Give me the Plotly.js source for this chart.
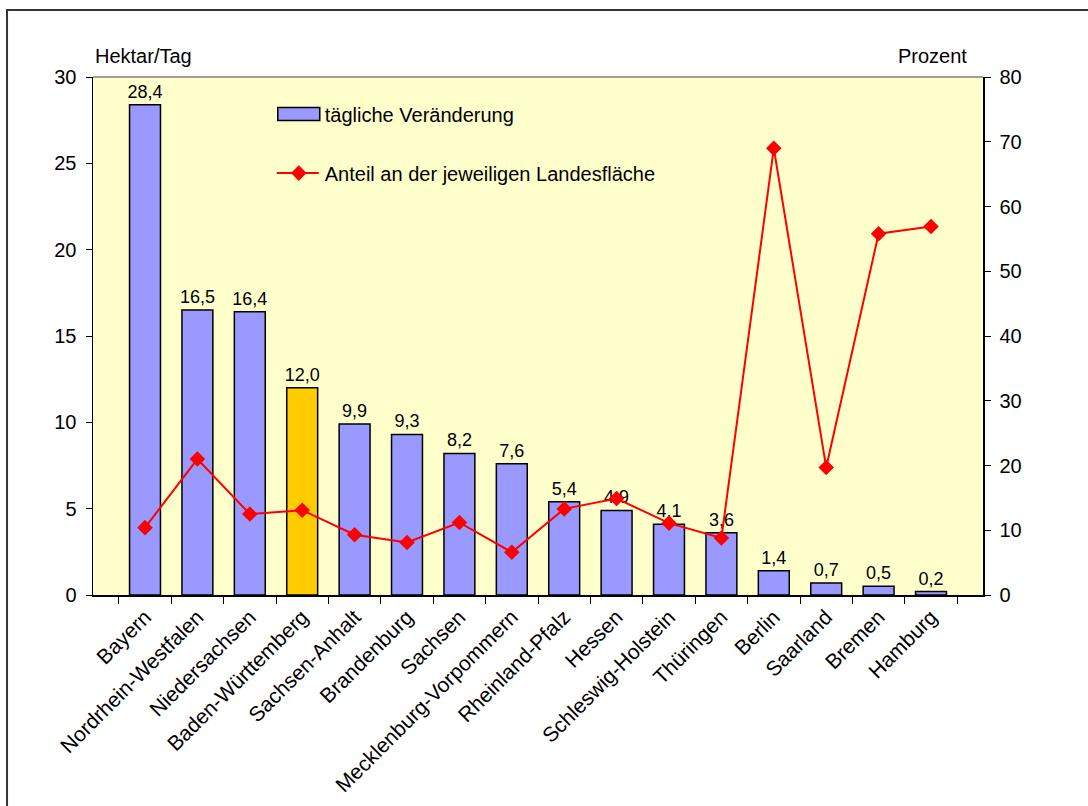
<!DOCTYPE html>
<html>
<head>
<meta charset="utf-8">
<script src="https://cdn.plot.ly/plotly-3.0.1.min.js"></script>
<style>html,body{margin:0;padding:0;background:#fff;}</style>
</head>
<body>
<div id="chart" style="width:1088px;height:806px;"></div>
<script>
const categories = ["Bayern","Nordrhein-Westfalen","Niedersachsen","Baden-Württemberg","Sachsen-Anhalt","Brandenburg","Sachsen","Mecklenburg-Vorpommern","Rheinland-Pfalz","Hessen","Schleswig-Holstein","Thüringen","Berlin","Saarland","Bremen","Hamburg"];
const dailyChange = [28.4,16.5,16.4,12.0,9.9,9.3,8.2,7.6,5.4,4.9,4.1,3.6,1.4,0.7,0.5,0.2];
const shareOfArea = [10.4,21.0,12.5,13.1,9.3,8.1,11.2,6.6,13.3,14.9,11.1,8.8,69.0,19.7,55.8,56.9];
const highlightCategory = "Baden-Württemberg";

const barColors = categories.map(c => c === highlightCategory ? "#FFCC00" : "#9999FF");
const FONT = "'Liberation Sans', Arial, sans-serif";

const traces = [
  {
    type: "bar",
    name: "tägliche Veränderung",
    x: categories,
    y: dailyChange,
    marker: {color: barColors, line: {color: "#000", width: 1.5}},
    texttemplate: "%{y:.1f}",
    textposition: "outside",
    constraintext: "none",
    textfont: {family: FONT, size: 18, color: "#000"},
    cliponaxis: false,
    legendgroup: "a",
    hoverinfo: "x+y"
  },
  {
    type: "scatter",
    mode: "lines+markers",
    name: "Anteil an der jeweiligen Landesfläche",
    x: categories,
    y: shareOfArea,
    yaxis: "y2",
    line: {color: "#FF0000", width: 2},
    marker: {symbol: "diamond", size: 12, color: "#FF0000"},
    legendgroup: "b",
    cliponaxis: false
  }
];

const layout = {
  width: 1088,
  height: 806,
  margin: {l: 93, r: 105, t: 77, b: 211},
  paper_bgcolor: "#FFFFFF",
  plot_bgcolor: "#FFFFCC",
  separators: ",.",
  font: {family: FONT, size: 20, color: "#000"},
  bargap: 0.41,
  showlegend: true,
  legend: {
    x: 0.202, y: 0.966, xanchor: "left", yanchor: "top",
    bgcolor: "rgba(0,0,0,0)",
    font: {family: FONT, size: 20, color: "#000"},
    itemwidth: 42,
    tracegroupgap: 30,
    traceorder: "grouped"
  },
  xaxis: {
    type: "category",
    tickangle: -45,
    ticks: "outside",
    tickson: "boundaries",
    ticklen: 7,
    tickcolor: "#000",
    tickwidth: 1,
    showline: true,
    linecolor: "#000",
    linewidth: 1.5,
    showgrid: false,
    tickfont: {family: FONT, size: 21, color: "#000"},
    fixedrange: true
  },
  yaxis: {
    range: [0, 30],
    dtick: 5,
    ticks: "outside",
    ticklen: 6,
    tickcolor: "#000",
    ticklabelstandoff: 5,
    showline: true,
    linecolor: "#000",
    linewidth: 1.5,
    showgrid: false,
    zeroline: false,
    tickfont: {family: FONT, size: 20, color: "#000"}
  },
  yaxis2: {
    overlaying: "y",
    side: "right",
    range: [0, 80],
    dtick: 10,
    ticks: "outside",
    ticklen: 6,
    tickcolor: "#000",
    ticklabelstandoff: 5,
    showline: true,
    linecolor: "#000",
    linewidth: 1.5,
    showgrid: false,
    zeroline: false,
    tickfont: {family: FONT, size: 20, color: "#000"}
  },
  annotations: [
    {text: "Hektar/Tag", xref: "paper", yref: "paper", x: 0, y: 1, xanchor: "left", yanchor: "bottom", yshift: 8, showarrow: false, font: {family: FONT, size: 20, color: "#000"}},
    {text: "Prozent", xref: "paper", yref: "paper", x: 0.984, y: 1, xanchor: "right", yanchor: "bottom", yshift: 8, showarrow: false, font: {family: FONT, size: 20, color: "#000"}}
  ],
  shapes: [
    {type: "line", xref: "paper", yref: "paper", x0: 0, x1: 1, y0: 1, y1: 1, line: {color: "#808080", width: 1.5}, layer: "above"},
    {type: "rect", xref: "paper", yref: "paper", x0: -0.0966, x1: 1.3, y0: -0.6, y1: 1.1293, line: {color: "#333333", width: 2}, fillcolor: "rgba(0,0,0,0)", layer: "below"}
  ]
};

Plotly.newPlot("chart", traces, layout, {displayModeBar: false, staticPlot: true}).then(function (gd) {
  // widen legend keys to match the original legend style
  gd.querySelectorAll(".legend .legendpoints path.legendundefined, .legend .legendbar path, .legend .legendpoints .legendbar path").forEach(function (p) {
    p.setAttribute("d", "M21,6.5H-21V-6.5H21Z");
  });
  gd.querySelectorAll(".legend .legendlines path").forEach(function (p) {
    p.setAttribute("d", "M4,0h42");
  });
});
</script>
</body>
</html>
